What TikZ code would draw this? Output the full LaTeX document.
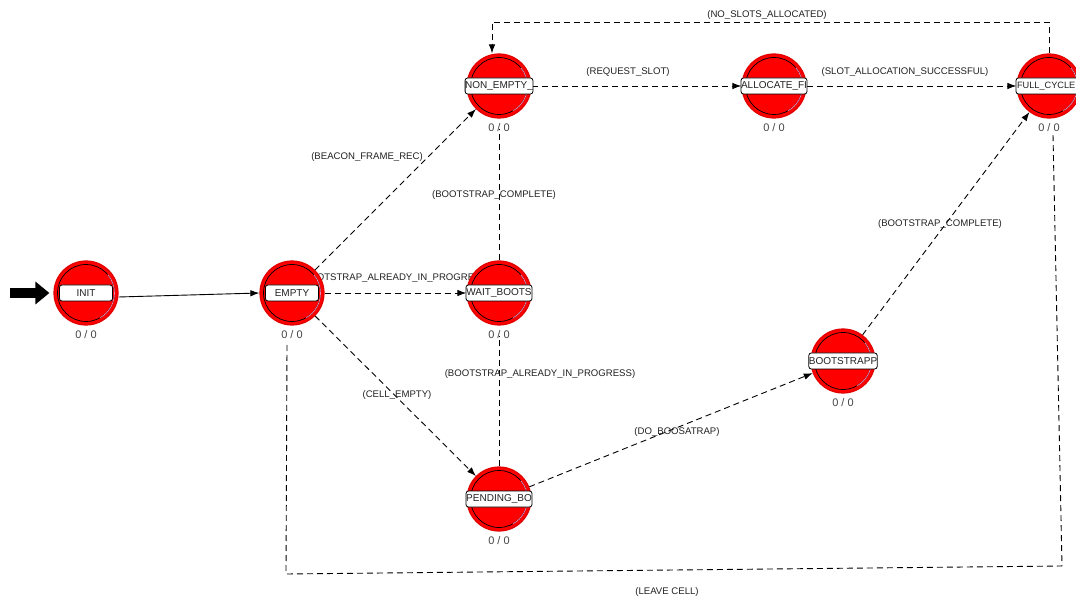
\documentclass[tikz,border=0pt]{standalone}
\usepackage{fontspec}
\setmainfont{Liberation Sans}
\usetikzlibrary{arrows.meta,backgrounds,calc}

\definecolor{stred}{HTML}{FF0000}
\definecolor{stedge}{HTML}{E00000}
\definecolor{ringpink}{HTML}{E890B8}
\definecolor{txtgray}{HTML}{222222}
\definecolor{cntgray}{HTML}{444444}

\tikzset{
  state/.style={circle, minimum size=64pt, inner sep=0pt, fill=stred, draw=stedge, line width=1.2pt,
    path picture={
      \draw[black, line width=0.7pt] (path picture bounding box.center) circle (28.5);
      \draw[ringpink, line width=0.7pt]
        ([shift={(60:28.5)}]path picture bounding box.center) arc (60:-40:28.5);
    }},
  lbl/.style={draw=black, fill=white, rounded corners=2.5pt, line width=0.8pt,
    minimum width=66pt, minimum height=16pt, inner sep=0pt,
    font=\fontsize{10}{12}\selectfont, text=txtgray},
  lblleft/.style={text width=64pt, inner xsep=1pt, align=left,
    font=\fontsize{9.2}{12}\selectfont},
  cnt/.style={font=\fontsize{11}{13}\selectfont, text=cntgray, inner sep=1pt},
  elabel/.style={font=\fontsize{9.6}{11}\selectfont, text=txtgray, inner sep=0pt},
  trans/.style={draw=black, line width=0.9pt, dash pattern=on 6pt off 4pt,
    -{Latex[length=9pt,width=6.5pt]}},
  link/.style={draw=black, line width=0.9pt, dash pattern=on 6pt off 4pt},
  initarrow/.style={draw=black, line width=0.9pt, -{Latex[length=9pt,width=6.5pt]}},
  startarrow/.style={draw=black, line width=10pt, -{Triangle[length=14pt,width=22pt]}}
}

% a state: red disc, caption box and the "0 / 0" counter below
\newcommand\mkstate[6][]{%
  \node[state] (#2) at (#3,#4) {};
  \node[lbl, minimum width=#6, #1] (#2-l) at (#2) {#5};
  \node[cnt] (#2-c) at ($(#2)+(0,42)$) {0 / 0};%
}

\begin{document}
\begin{tikzpicture}[x=1pt, y=-1pt]
  \useasboundingbox (0,0) rectangle (1076,601);

  % states
  \mkstate{init}{86}{293}{INIT}{53pt}
  \mkstate{empty}{292}{293}{EMPTY}{53pt}
  \mkstate{ne}{499}{86}{NON\_EMPTY\_}{66pt}
  \mkstate{alloc}{774}{86}{ALLOCATE\_FI}{66pt}
  \mkstate[lblleft]{full}{1049}{86}{FULL\_CYCLE}{66pt}
  \mkstate{wait}{499}{293}{WAIT\_BOOTS}{66pt}
  \mkstate{pend}{499}{499}{PENDING\_BO}{66pt}
  \mkstate{boot}{843}{361}{BOOTSTRAPP}{66pt}

  % free ends and corners of the routed connectors
  \coordinate (start) at (10,293);
  \coordinate (topl) at (492,22);
  \coordinate (lcA) at (287,345);
  \coordinate (lcB) at (286,574);
  \coordinate (lcC) at (1062,566);
  \coordinate (lcD) at (1053,135);

  \begin{scope}[on background layer]
    \fill[white] (0,0) rectangle (1076,601);

    % entry marker
    \draw[startarrow] (start) -- ([xshift=-4pt]init.west);

    % transitions
    \draw[initarrow] ([yshift=-4pt]init.east) -- (empty.west);
    \draw[trans] (empty) -- (ne);
    \draw[trans] (empty) -- (wait);
    \draw[trans] (empty) -- (pend);
    \draw[trans] (ne) -- (alloc);
    \draw[trans] (alloc) -- (full);
    \draw[trans] (pend) -- (boot);
    \draw[trans] (boot) -- (full);
    \draw[trans] (full.north) |- (topl) -- (topl |- ne.north);
    \draw[link] (wait) -- ([yshift=4pt]ne-c.south);
    \draw[link] (pend) -- ([yshift=4pt]wait-c.south);
    \draw[link] (lcA) -- (lcB) -- (lcC) -- (lcD);

    % transition labels
    \node[elabel] (l-noslots) at (767,15) {(NO\_SLOTS\_ALLOCATED)};
    \node[elabel] (l-req) at (628,72) {(REQUEST\_SLOT)};
    \node[elabel] (l-succ) at (905,72) {(SLOT\_ALLOCATION\_SUCCESSFUL)};
    \node[elabel] (l-beacon) at (367,157) {(BEACON\_FRAME\_REC)};
    \node[elabel] (l-bc1) at (494,195) {(BOOTSTRAP\_COMPLETE)};
    \node[elabel] (l-bc2) at (940,224) {(BOOTSTRAP\_COMPLETE)};
    \node[elabel] (l-bip1) at (395,278) {(BOOTSTRAP\_ALREADY\_IN\_PROGRESS)};
    \node[elabel] (l-bip2) at (540,374) {(BOOTSTRAP\_ALREADY\_IN\_PROGRESS)};
    \node[elabel] (l-cell) at (397,395) {(CELL\_EMPTY)};
    \node[elabel] (l-do) at (677,432) {(DO\_BOOSATRAP)};
    \node[elabel] (l-leave) at (667,592) {(LEAVE CELL)};
  \end{scope}
\end{tikzpicture}
\end{document}
